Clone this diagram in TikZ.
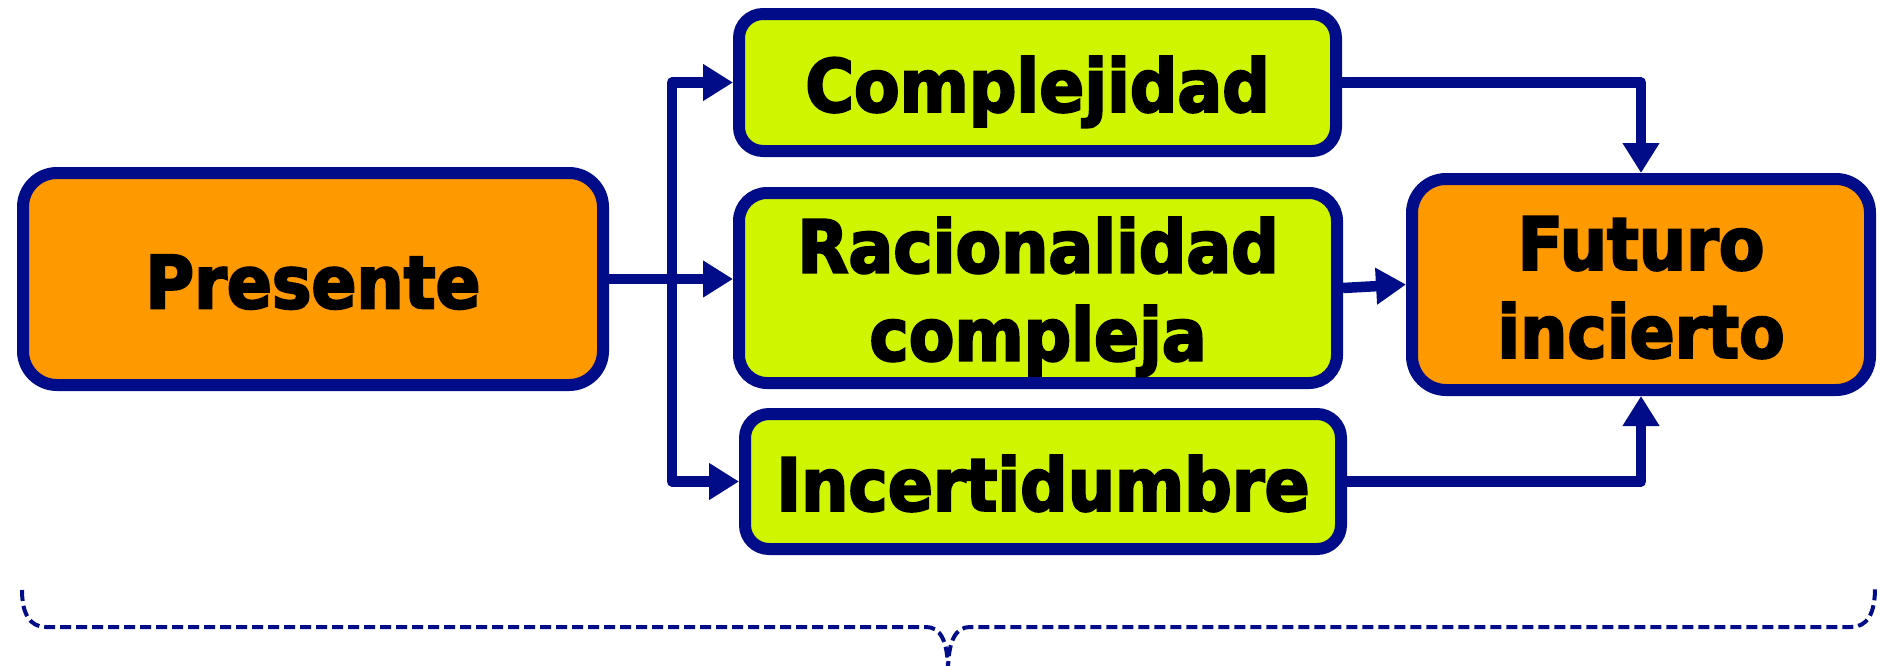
\documentclass[tikz,border=0pt]{standalone}
\usepackage{fontspec}
\setmainfont{DejaVu Sans}[FakeStretch=0.91, FakeBold=3]
\usetikzlibrary{arrows.meta}

\definecolor{navy}{RGB}{0,12,136}
\definecolor{naranja}{RGB}{255,153,0}
\definecolor{lima}{RGB}{208,245,0}

\newcommand{\topstr}{\rule{0pt}{36.5pt}}
\newcommand{\botstr}{\rule[-7.3pt]{0pt}{7.3pt}}

\begin{document}
\begin{tikzpicture}
    [
        x=0.5pt, y=-0.5pt, >={Triangle[length=15pt,width=17.5pt]},
        box/.style={draw=navy, line width=6pt, align=center, inner sep=0pt,
            font=\fontsize{36.5pt}{44pt}\selectfont\bfseries},
        obox/.style={box, fill=naranja, rounded corners=17pt},
        gbox/.style={box, fill=lima, rounded corners=12pt},
        oneline/.style={text height=36.5pt, text depth=7.3pt}
    ]
    \tikzstyle{line} = [draw=navy, ->, line width=5.25pt, line join=round]
    \tikzstyle{brc} = [draw=navy, line width=2pt, dash pattern=on 5.5pt off 2.5pt]

    \useasboundingbox (0,0) rectangle (1884,665);

    \node[obox, oneline, minimum width=290pt, minimum height=106pt] (pres) at (313,279) {Presente};
    \node[gbox, oneline, minimum width=298.5pt, minimum height=68.5pt] (comp) at (1037.5,82.5) {Complejidad};
    \node[gbox, rounded corners=14pt, minimum width=299pt, minimum height=95pt] (rac) at (1038,288)
        {\topstr Racionalidad\\compleja\botstr};
    \node[gbox, oneline, minimum width=298pt, minimum height=67.5pt] (inc) at (1043,481.5) {Incertidumbre};
    \node[obox, minimum width=229pt, minimum height=105.5pt] (fut) at (1641,284.5)
        {\topstr Futuro\\incierto\botstr};

    \coordinate (split) at (672,279);

    \path[line] (pres.east) -- (pres.east -| rac.west);
    \path[line] (split) |- (comp.west);
    \path[line] (split) |- (inc.west);
    \path[line] (rac.east) -- (fut.west);
    \path[line] (comp.east) -| (fut.north);
    \path[line] (inc.east) -| (fut.south);

    % llave
    \path[brc] (22,590) .. controls (22,614) and (30,627) .. (46,627) -- (926,627)
        .. controls (940,627) and (948,640) .. (948,672);
    \path[brc] (948,672) .. controls (948,640) and (956,627) .. (970,627) -- (1851,627)
        .. controls (1867,627) and (1875,614) .. (1875,588);

\end{tikzpicture}
\end{document}
